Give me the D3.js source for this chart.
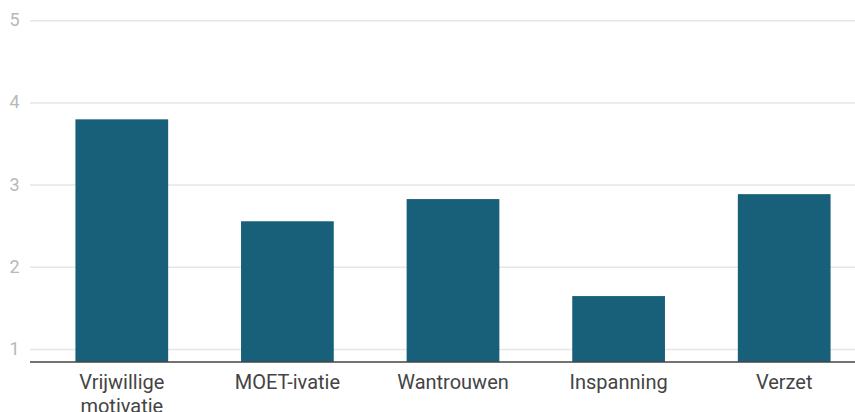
<!DOCTYPE html>
<html><head><meta charset="utf-8">
<script src="https://cdn.jsdelivr.net/npm/d3@7"></script>
<style>body{margin:0;background:#fff;} text{font-family:Roboto,sans-serif;}</style>
</head><body>
<svg id="c" width="855" height="412"></svg>
<script>
const categories = ["Vrijwillige motivatie", "MOET-ivatie", "Wantrouwen", "Inspanning", "Verzet"];
const values = [3.80, 2.56, 2.83, 1.65, 2.89];
const yTicks = [1, 2, 3, 4, 5];

const svg = d3.select("#c");
const x0 = 30, x1 = 855;
const y = d3.scaleLinear().domain([0.848, 5]).range([362, 20.7]);
const x = d3.scaleBand().domain(categories).range([39, 867]).paddingInner(0.44).paddingOuter(0.22);

const grid = svg.append("g");
grid.selectAll("line").data(yTicks).join("line")
  .attr("x1", x0).attr("x2", x1)
  .attr("y1", d => y(d)).attr("y2", d => y(d))
  .attr("stroke", "#e6e6e6").attr("stroke-width", 1.5);
grid.selectAll("text").data(yTicks).join("text")
  .attr("x", 14.5).attr("y", d => y(d) - 1).attr("dy", "0.36em")
  .attr("text-anchor", "middle").attr("font-size", 18).attr("fill", "#b8b8b8")
  .text(d => d);

svg.append("g").selectAll("rect").data(values).join("rect")
  .attr("x", (d, i) => x(categories[i]))
  .attr("width", x.bandwidth())
  .attr("y", d => y(d))
  .attr("height", d => y(0.848) - y(d))
  .attr("fill", "#18607a");

svg.append("line").attr("x1", x0).attr("x2", x1).attr("y1", y(0.848)).attr("y2", y(0.848))
  .attr("stroke", "#444").attr("stroke-width", 1.5);

const lab = svg.append("g");
categories.forEach(c => {
  const words = c.split(" ");
  const t = lab.append("text").attr("text-anchor", "middle").attr("font-size", 20).attr("fill", "#444")
    .attr("x", x(c) + x.bandwidth() / 2).attr("y", 389);
  words.forEach((w, i) => t.append("tspan").attr("x", x(c) + x.bandwidth() / 2).attr("dy", i ? 24 : 0).text(w));
});
</script>
</body></html>
